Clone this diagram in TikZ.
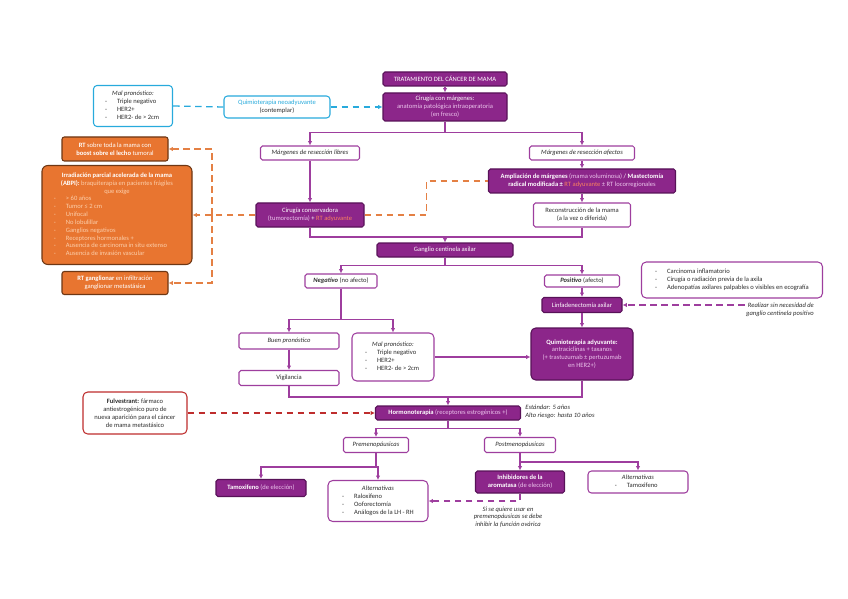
\documentclass[tikz,border=0pt]{standalone}
\usepackage{fontspec}
\setmainfont{Carlito}
\usetikzlibrary{arrows.meta, positioning}
\definecolor{pfill}{RGB}{140,38,138}
\definecolor{pdark}{RGB}{88,18,88}
\definecolor{pline}{RGB}{158,62,158}
\definecolor{plight}{RGB}{236,196,236}
\definecolor{rtc}{RGB}{248,128,96}
\definecolor{cyanc}{RGB}{40,170,220}
\definecolor{ofill}{RGB}{232,117,48}
\definecolor{odark}{RGB}{110,55,20}
\definecolor{oline}{RGB}{228,128,68}
\definecolor{opale}{RGB}{252,206,170}
\definecolor{redc}{RGB}{190,45,45}
\definecolor{txt}{RGB}{45,45,45}
\newdimen\pxu \pxu=0.3mm
\tikzset{sz/.style 2 args={minimum width=#1\pxu, minimum height=#2\pxu}}

\begin{document}
\begin{tikzpicture}[
x=0.3mm, y=-0.3mm,
font=\fontsize{5.6}{6.7}\selectfont,
pbox/.style={rectangle, draw=pdark, fill=pfill, text=white, line width=0.9pt, rounded corners=1.5pt, align=center, inner sep=1pt},
wbox/.style={rectangle, draw=pline, fill=white, text=txt, line width=0.9pt, rounded corners=1.5pt, align=center, inner sep=1pt},
obox/.style={rectangle, draw=odark, fill=ofill, text=white, line width=0.9pt, rounded corners=2pt, align=center, inner sep=1pt},
cbox/.style={rectangle, draw=cyanc, fill=white, text=txt, line width=0.9pt, rounded corners=3pt, align=center, inner sep=1pt},
rbox/.style={rectangle, draw=redc, fill=white, text=txt, line width=0.9pt, rounded corners=4pt, align=center, inner sep=1pt},
nota/.style={text=txt, font=\fontsize{5.6}{6.7}\selectfont\itshape, inner sep=1pt},
line/.style={draw=pline, line width=1pt},
arrow/.style={line, -{Latex[length=1.3mm, width=1.3mm]}},
pdash/.style={draw=pline, line width=1.1pt, dash pattern=on 2mm off 1.3mm, -{Latex[length=1.3mm, width=1.3mm]}},
cdash/.style={draw=cyanc, line width=1.1pt, dash pattern=on 2mm off 1.3mm},
odash/.style={draw=oline, line width=1.1pt, dash pattern=on 2mm off 1.3mm},
rdash/.style={draw=redc, line width=1.1pt, dash pattern=on 2mm off 1.3mm, -{Latex[length=1.3mm, width=1.3mm]}},
tip/.style={-{Latex[length=1.3mm, width=1.3mm]}}
]
\useasboundingbox (0,0) rectangle (848,599);

\node[pbox, sz={124}{14}] (titulo) at (445,79) {TRATAMIENTO DEL CÁNCER DE MAMA};
\node[pbox, sz={124}{28}] (cirugia) at (445,107) {Cirugía con márgenes:\\{\color{plight}anatomía patológica intraoperatoria}\\{\color{plight}(en fresco)}};
\node[cbox, sz={79}{41}] (malpron) at (133,106) {\begin{tabular}{@{}p{12\pxu}@{}l@{}}\multicolumn{2}{c}{\textit{Mal pronóstico:}}\\ -&Triple negativo\\ -&HER2+\\ -&HER2- de > 2cm\end{tabular}};
\node[cbox, sz={106}{22}] (neoady) at (277,107) {{\color{cyanc}Quimioterapia neoadyuvante}\\(contemplar)};

\node[wbox, sz={99}{14}] (libres) at (310,153) {\textit{Márgenes de resección libres}};
\node[wbox, sz={105}{14}] (afectos) at (582,153) {\textit{Márgenes de resección afectos}};
\node[pbox, sz={108}{24}] (conserv) at (310,215) {Cirugía conservadora\\{\color{plight}(tumorectomía)} + {\color{rtc}RT adyuvante}};
\node[pbox, sz={187}{24}] (ampl) at (582,181) {\textbf{Ampliación de márgenes} {\color{plight}(mama voluminosa)} / \textbf{Mastectomía}\\\textbf{radical modificada ±} {\color{rtc}RT adyuvante} {\color{plight}± RT locorregionales}};
\node[wbox, sz={97}{24}] (reconst) at (582,215) {Reconstrucción de la mama\\(a la vez o diferida)};

\node[obox, sz={106}{24}] (rtmama) at (115,149) {\textbf{RT} sobre toda la mama con\\\textbf{boost sobre el lecho} tumoral};
\node[obox, sz={150}{99}, rounded corners=5pt, text=opale] (apbi) at (117,215) {\begin{tabular}{@{}p{12\pxu}@{}l@{}}\multicolumn{2}{c}{\color{white}\textbf{Irradiación parcial acelerada de la mama}}\\\multicolumn{2}{c}{{\color{white}\textbf{(ABPI):}} braquiterapia en pacientes frágiles}\\\multicolumn{2}{c}{que exige}\\ -&> 60 años\\ -&Tumor ≤ 2 cm\\ -&Unifocal\\ -&No lobulillar\\ -&Ganglios negativos\\ -&Receptores hormonales +\\ -&Ausencia de carcinoma in situ extenso\\ -&Ausencia de invasión vascular\end{tabular}};
\node[obox, sz={106}{23}] (rtgang) at (115,283) {\textbf{RT ganglionar} en infiltración\\ganglionar metastásica};

\node[pbox, sz={136}{14}] (ganglio) at (445,250) {Ganglio centinela axilar};
\node[wbox, sz={72}{14}] (negativo) at (341,281) {\textbf{\textit{Negativo}} (no afecto)};
\node[wbox, sz={75}{12}] (positivo) at (582,281) {\textbf{\textit{Positivo}} (afecto)};
\node[pbox, sz={80}{15}] (linfa) at (582,305) {Linfadenectomía axilar};
\node[wbox, sz={181}{36}, rounded corners=4pt] (criterios) at (732,280) {\begin{tabular}{@{}p{12\pxu}@{}l@{}} -&Carcinoma inflamatorio\\ -&Cirugía o radiación previa de la axila\\ -&Adenopatías axilares palpables o visibles en ecografía\end{tabular}};
\node[nota, align=right] (sinbsgc) at (780,310) {Realizar sin necesidad de\\ganglio centinela positivo};

\node[wbox, sz={100}{16}] (buen) at (289,341) {\textit{Buen pronóstico}};
\node[wbox, sz={100}{15}] (vigil) at (289,378) {Vigilancia};
\node[wbox, sz={82}{48}, rounded corners=4pt] (malpron2) at (393,357) {\begin{tabular}{@{}p{12\pxu}@{}l@{}}\multicolumn{2}{c}{\textit{Mal pronóstico:}}\\ -&Triple negativo\\ -&HER2+\\ -&HER2- de > 2cm\end{tabular}};
\node[pbox, sz={102}{52}, rounded corners=4pt] (qady) at (582,354) {\textbf{Quimioterapia adyuvante:}\\{\color{plight}antraciclinas + taxanos}\\{\color{plight}(+ trastuzumab ± pertuzumab}\\{\color{plight}en HER2+)}};

\node[pbox, sz={145}{14}] (hormono) at (448,413) {\textbf{Hormonoterapia} {\color{plight}(receptores estrogénicos +)}};
\node[nota, anchor=west, align=left] (duracion) at (524,412) {Estándar: 5 años\\Alto riesgo: hasta 10 años};
\node[rbox, sz={104}{42}] (fulv) at (135,413) {\textbf{Fulvestrant:} fármaco\\antiestrogénico puro de\\nueva aparición para el cáncer\\de mama metastásico};

\node[wbox, sz={65}{15}] (premeno) at (376,445) {\textit{Premenopáusicas}};
\node[wbox, sz={71}{15}] (postmeno) at (520,445) {\textit{Postmenopáusicas}};
\node[pbox, sz={90}{17}] (tamox) at (261,488) {\textbf{Tamoxifeno} {\color{plight}(de elección)}};
\node[wbox, sz={100}{41}, rounded corners=4pt] (altpre) at (378,501) {\begin{tabular}{@{}p{12\pxu}@{}l@{}}\multicolumn{2}{c}{\textit{Alternativas}}\\ -&Raloxifeno\\ -&Ooforectomía\\ -&Análogos de la LH - RH\end{tabular}};
\node[pbox, sz={89}{22}] (inhib) at (520,482) {\textbf{Inhibidores de la}\\\textbf{aromatasa} {\color{plight}(de elección)}};
\node[wbox, sz={100}{22}, rounded corners=3pt] (altpost) at (638,482) {\begin{tabular}{@{}p{12\pxu}@{}l@{}}\multicolumn{2}{c}{\textit{Alternativas}}\\ -&Tamoxifeno\end{tabular}};
\node[nota, align=center] (ovario) at (508,517) {Si se quiere usar en\\premenopáusicas se debe\\inhibir la función ovárica};

\draw[arrow] (titulo) -- (cirugia);
\draw[arrow] (cirugia.south) -- ++(0,11) -| (libres.north);
\draw[arrow] (cirugia.south) -- ++(0,11) -| (afectos.north);
\draw[arrow] (libres) -- (conserv);
\draw[arrow] (afectos) -- (ampl);
\draw[arrow] (ampl) -- (reconst);
\coordinate (cg) at (445,237);
\draw[line] (conserv.south) |- (cg);
\draw[line] (reconst.south) |- (cg);
\draw[arrow] (cg) -- (ganglio.north);

\draw[cdash] (malpron.east) -- (neoady.west);
\draw[cdash, tip] (neoady.east) -- (cirugia.west);

\coordinate (ov) at (212,215);
\draw[odash, tip] (conserv.west) -- (apbi.east);
\draw[odash, tip] (ov) |- (rtmama.east);
\draw[odash, tip] (ov) |- (rtgang.east);
\draw[odash] (conserv.east) -- ++(62,0) |- (ampl.west);

\draw[arrow] (ganglio.south) -- ++(0,8) -| (negativo.north);
\draw[arrow] (ganglio.south) -- ++(0,8) -| (positivo.north);
\draw[arrow] (positivo) -- (linfa);
\draw[arrow] (linfa) -- (qady);
\draw[pdash] (sinbsgc.west |- linfa.east) -- (linfa.east);
\draw[arrow] (negativo.south) -- ++(0,31) -| (buen.north);
\draw[arrow] (negativo.south) -- ++(0,31) -| (malpron2.north);
\draw[arrow] (buen) -- (vigil);
\draw[arrow] (malpron2.east) -- (malpron2.east -| qady.west);

\coordinate (ch) at (448,397);
\draw[line] (vigil.south) |- (ch);
\draw[line] (qady.south) |- (ch);
\draw[arrow] (ch) -- (hormono.north);
\draw[rdash] (fulv.east) -- (hormono.west);

\draw[arrow] (hormono.south) -- ++(0,8) -| (premeno.north);
\draw[arrow] (hormono.south) -- ++(0,8) -| (postmeno.north);
\draw[arrow] (premeno.south) -- ++(0,14) -| (tamox.north);
\draw[arrow] (premeno.south) -- ++(0,14) -| (altpre.north);
\draw[arrow] (postmeno.south) -- ++(0,9) -| (inhib.north);
\draw[arrow] (postmeno.south) -- ++(0,9) -| (altpost.north);
\draw[pdash] (inhib.south) |- (altpre.east);
\end{tikzpicture}
\end{document}
